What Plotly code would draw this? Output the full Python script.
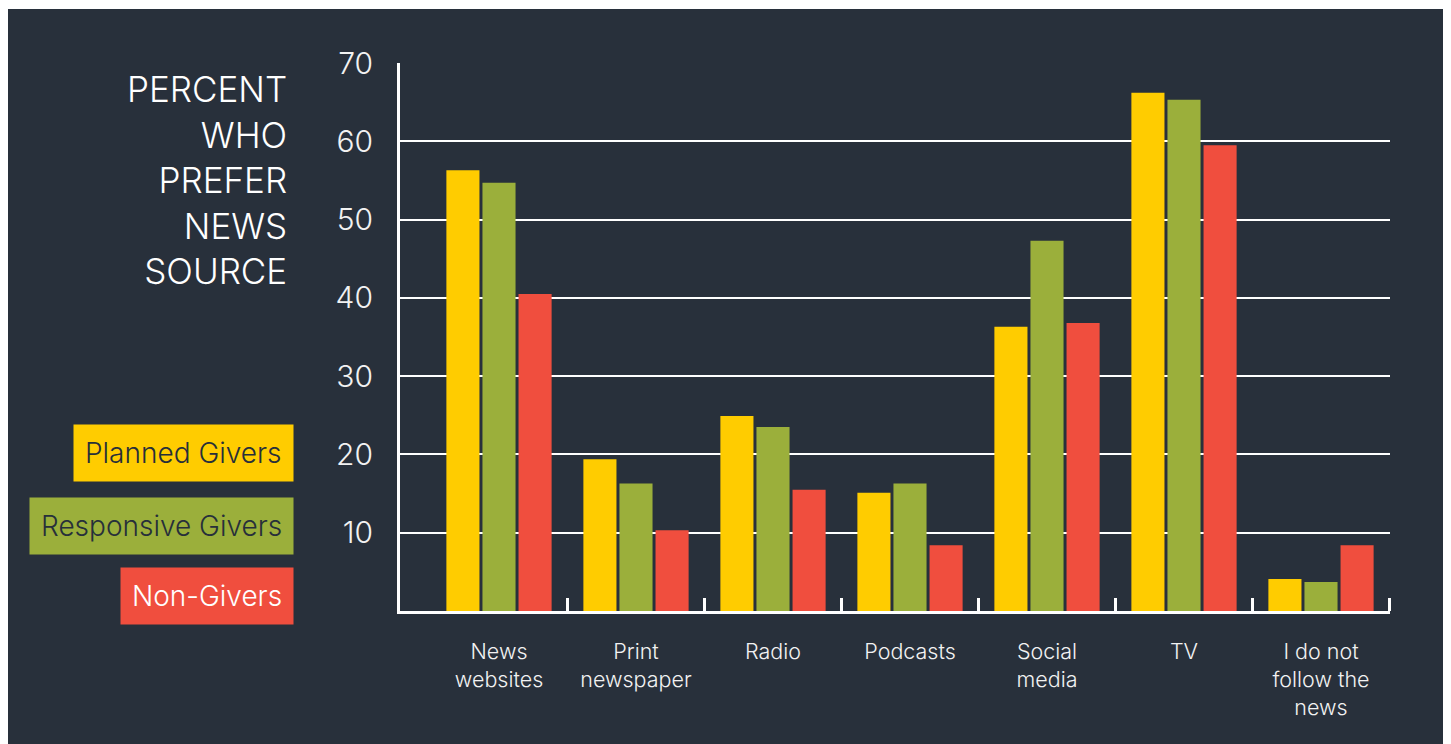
import plotly.graph_objects as go

categories = ["News<br>websites", "Print<br>newspaper", "Radio", "Podcasts",
              "Social<br>media", "TV", "I do not<br>follow the<br>news"]
series_names = ["Planned Givers", "Responsive Givers", "Non-Givers"]
planned = [56.3, 19.4, 24.9, 15.1, 36.3, 66.2, 4.1]
responsive = [54.7, 16.3, 23.5, 16.3, 47.3, 65.3, 3.7]
non_givers = [40.5, 10.3, 15.5, 8.4, 36.8, 59.5, 8.4]
y_ticks = [10, 20, 30, 40, 50, 60, 70]

values = [planned, responsive, non_givers]
colors = ["#FFCC00", "#9BAF3B", "#F04E3E"]
label_colors = ["#272F3A", "#272F3A", "#FFFFFF"]
BG = "#28303B"
FONT = "Inter"
OFF = 8  # browser body margin

x_pos = list(range(len(categories)))

fig = go.Figure()
for name, vals, col in zip(series_names, values, colors):
    fig.add_trace(go.Bar(x=x_pos, y=vals, name=name, marker_color=col,
                         marker_line_width=0, showlegend=False))

W, H = 1451, 744
L, T = 400 - OFF, 63 - OFF
R = W - (1390 - OFF)
B = H - (611 - OFF)
pw, ph = W - L - R, H - T - B


def px_x(px):
    return (px - OFF - L) / pw


def px_y(py):
    return (H - B - (py - OFF)) / ph


fig.update_layout(
    width=W, height=H,
    margin=dict(l=L, r=R, t=T, b=B, pad=0),
    paper_bgcolor="white",
    plot_bgcolor="rgba(0,0,0,0)",
    barmode="group",
    bargap=0.21,
    bargroupgap=0.083,
    font=dict(family=FONT, color="#F2F2F2", weight=300),
    shapes=[dict(type="rect", xref="paper", yref="paper", layer="below",
                 x0=px_x(6), x1=px_x(1446), y0=px_y(800), y1=px_y(9),
                 fillcolor=BG, line_width=0)],
)

fig.update_xaxes(
    range=[-0.7226, 6.5036],
    tickmode="array", tickvals=x_pos, ticktext=categories,
    ticks="", showgrid=False, zeroline=False,
    showline=True, linecolor="white", linewidth=3,
    tickfont=dict(size=21.5, color="#F2F2F2", family=FONT, weight=300),
    ticklabelstandoff=19,
    minor=dict(tickmode="array", tickvals=[i + 0.5 for i in x_pos],
               ticks="inside", ticklen=13, tickwidth=3, tickcolor="white",
               showgrid=False),
)
fig.update_yaxes(
    range=[0, 70], tickmode="array", tickvals=y_ticks,
    ticks="", showgrid=True, gridcolor="white", gridwidth=2,
    zeroline=False, showline=True, linecolor="white", linewidth=3,
    tickfont=dict(size=30, color="#F2F2F2", family=FONT, weight=300),
    ticklabelstandoff=18,
)

fig.add_annotation(
    xref="paper", yref="paper", x=px_x(289), y=px_y(66),
    xanchor="right", yanchor="top", align="right", showarrow=False,
    text="PERCENT<br>WHO<br>PREFER<br>NEWS<br>SOURCE",
    font=dict(size=35, color="white", family=FONT, weight=300),
)

legend_centers = [453, 526, 596]
for name, col, tcol, cy in zip(series_names, colors, label_colors, legend_centers):
    fig.add_annotation(
        xref="paper", yref="paper", x=px_x(294), y=px_y(cy),
        xanchor="right", yanchor="middle", showarrow=False,
        text=name, bgcolor=col, borderpad=11, height=34,
        font=dict(size=28, color=tcol, family=FONT, weight=300),
    )

fig.write_html("out.html")
